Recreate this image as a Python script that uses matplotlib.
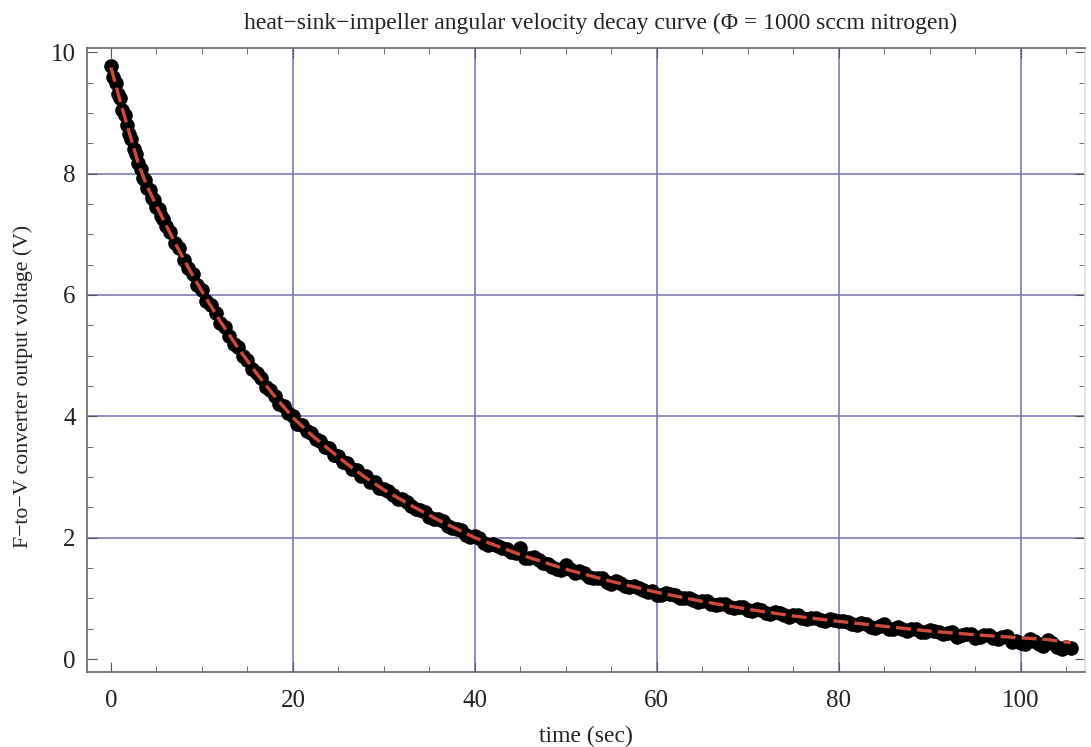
import numpy as np
import matplotlib
matplotlib.use("Agg")
import matplotlib.pyplot as plt
from matplotlib.ticker import MultipleLocator

t_early = [0, 0.25, 0.5, 0.75, 1, 1.25, 1.5, 1.75, 2, 2.25, 2.5, 2.75, 3, 3.25,
           3.5, 3.75, 4, 4.25, 4.5, 4.75, 5, 5.25, 5.5, 5.75, 6]
v_early = [9.77, 9.60, 9.50, 9.31, 9.24, 9.05, 8.97, 8.80, 8.65, 8.57, 8.41, 8.33,
           8.17, 8.08, 7.93, 7.90, 7.76, 7.73, 7.60, 7.57, 7.45, 7.41, 7.30, 7.26, 7.14]

t_mid = [6.5, 7, 7.5, 8, 8.5, 9, 9.5, 10, 10.5, 11, 11.5, 12, 12.5, 13, 13.5, 14,
         14.5, 15, 15.5, 16, 16.5, 17, 17.5, 18, 18.5, 19, 19.5, 20, 20.5, 21, 21.5,
         22, 22.5, 23, 23.5, 24, 24.5, 25, 25.5, 26, 26.5, 27, 27.5, 28, 28.5, 29,
         29.5, 30]
v_mid = [7.04, 6.86, 6.77, 6.58, 6.44, 6.35, 6.17, 6.08, 5.90, 5.83, 5.70, 5.54,
         5.47, 5.33, 5.20, 5.15, 5.00, 4.93, 4.78, 4.72, 4.63, 4.48, 4.44, 4.34,
         4.21, 4.17, 4.05, 4.00, 3.88, 3.86, 3.75, 3.72, 3.62, 3.59, 3.49, 3.47,
         3.37, 3.35, 3.24, 3.23, 3.13, 3.12, 3.02, 3.01, 2.92, 2.91, 2.82, 2.80]

t_late = [31, 32, 33, 34, 35, 36, 37, 38, 39, 40, 41, 42, 43, 44, 45, 46, 47, 48,
          49, 50, 51, 52, 53, 54, 55, 56, 57, 58, 59, 60, 61, 62, 63, 64, 65, 66,
          67, 68, 69, 70, 71, 72, 73, 74, 75, 76, 77, 78, 79, 80, 81, 82, 83, 84,
          85, 86, 87, 88, 89, 90, 91, 92, 93, 94, 95, 96, 97, 98, 99, 100, 101,
          102, 103, 104, 105, 105.5]
v_late = [2.70, 2.64, 2.52, 2.46, 2.34, 2.30, 2.20, 2.15, 2.05, 2.02, 1.92, 1.90,
          1.83, 1.77, 1.83, 1.66, 1.64, 1.56, 1.48, 1.55, 1.42, 1.41, 1.33, 1.33,
          1.24, 1.25, 1.19, 1.17, 1.10, 1.06, 1.09, 1.05, 1.00, 0.97, 0.96, 0.91,
          0.90, 0.86, 0.86, 0.81, 0.82, 0.76, 0.77, 0.72, 0.73, 0.68, 0.68, 0.64,
          0.66, 0.62, 0.61, 0.56, 0.58, 0.51, 0.57, 0.50, 0.49, 0.50, 0.44, 0.48,
          0.44, 0.43, 0.36, 0.41, 0.35, 0.39, 0.34, 0.37, 0.28, 0.27, 0.33, 0.25,
          0.31, 0.20, 0.19, 0.18]

t_half = [30.5, 31.5, 32.5, 33.5, 34.5, 35.5, 36.5, 37.5, 38.5, 39.5, 40.5, 41.5,
          42.5, 43.5, 44.5, 45.5, 46.5, 47.5, 48.5, 49.5, 50.5, 51.5, 52.5, 53.5,
          54.5, 55.5, 56.5, 57.5, 58.5, 59.5, 60.5, 61.5, 62.5, 63.5, 64.5, 65.5,
          66.5, 67.5, 68.5, 69.5, 70.5, 71.5, 72.5, 73.5, 74.5, 75.5, 76.5, 77.5,
          78.5, 79.5, 80.5, 81.5, 82.5, 83.5, 84.5, 85.5, 86.5, 87.5, 88.5, 89.5,
          90.5, 91.5, 92.5, 93.5, 94.5, 95.5, 96.5, 97.5, 98.5, 99.5, 100.5, 101.5,
          102.5, 103.5, 104.5]
v_half = [2.77, 2.64, 2.59, 2.47, 2.42, 2.31, 2.27, 2.16, 2.12, 2.01, 1.99, 1.88,
          1.87, 1.81, 1.74, 1.67, 1.68, 1.58, 1.52, 1.46, 1.48, 1.45, 1.36, 1.34,
          1.27, 1.28, 1.20, 1.20, 1.13, 1.12, 1.05, 1.07, 1.01, 1.01, 0.94, 0.95,
          0.89, 0.90, 0.84, 0.85, 0.79, 0.80, 0.75, 0.76, 0.70, 0.72, 0.66, 0.67,
          0.62, 0.64, 0.63, 0.57, 0.60, 0.53, 0.55, 0.50, 0.53, 0.47, 0.49, 0.45,
          0.47, 0.41, 0.45, 0.39, 0.42, 0.37, 0.40, 0.33, 0.38, 0.30, 0.24, 0.30,
          0.22, 0.26, 0.17]

# fitted model curve
fit_t = [0, 1, 2, 3, 3.5, 4, 5, 6, 7, 8, 9, 10, 12, 14, 16, 18, 20, 22, 24, 26,
         28, 30, 33, 36, 40, 45, 50, 55, 60, 65, 70, 75, 80, 85, 90, 95, 100, 103,
         105.5]
fit_v = [9.75, 9.20, 8.68, 8.17, 7.97, 7.78, 7.47, 7.17, 6.87, 6.59, 6.32, 6.06,
         5.57, 5.12, 4.71, 4.33, 3.98, 3.70, 3.45, 3.21, 2.99, 2.79, 2.53, 2.29,
         2.00, 1.72, 1.48, 1.28, 1.10, 0.95, 0.82, 0.71, 0.62, 0.54, 0.46, 0.40,
         0.35, 0.32, 0.27]

x_grid = [20, 40, 60, 80, 100]
y_grid = [2, 4, 6, 8]

t_all = t_early + t_mid + t_late + t_half
v_all = v_early + v_mid + v_late + v_half

plt.rcParams['font.family'] = ['Liberation Serif', 'DejaVu Serif']
fig = plt.figure(figsize=(10.91, 7.47), dpi=100)
ax = fig.add_axes([0.0797, 0.1004, 0.915, 0.8353])

for g in x_grid:
    ax.axvline(g, color='#7a7ab8', lw=1.2, zorder=0)
for g in y_grid:
    ax.axhline(g, color='#7a7ab8', lw=1.2, zorder=0)

ax.plot(t_all, v_all, 'o', color='black', markersize=9.5, zorder=3)
ax.plot(fit_t, fit_v, color='#cf4a3c', lw=2.4, dashes=(4.5, 1.8), zorder=4)

ax.set_xlim(-2.64, 107.1)
ax.set_ylim(-0.214, 10.07)
ax.xaxis.set_major_locator(MultipleLocator(20))
ax.xaxis.set_minor_locator(MultipleLocator(5))
ax.yaxis.set_major_locator(MultipleLocator(2))
ax.yaxis.set_minor_locator(MultipleLocator(0.5))
ax.tick_params(axis='both', which='both', direction='in', top=True, right=True,
               colors='#555555', labelcolor='#222222', labelsize=18)
ax.tick_params(which='major', length=7)
ax.tick_params(which='minor', length=4)
ax.tick_params(axis='x', which='major', pad=13)
ax.tick_params(axis='y', which='major', pad=8)
for s in ax.spines.values():
    s.set_color('#666666')
    s.set_linewidth(1.2)
ax.spines['right'].set_color('#dddddd')

ax.set_xlabel("time (sec)", fontsize=17, color='#222222', labelpad=10)
ax.set_ylabel("F\u2212to\u2212V converter output voltage (V)", fontsize=15.7,
              color='#222222')
ax.yaxis.set_label_coords(-0.054, 0.458)
ax.set_title("heat\u2212sink\u2212impeller angular velocity decay curve "
             "(\u03a6 = 1000 sccm nitrogen)", fontsize=17, color='#222222',
             pad=14, x=0.515)

plt.savefig("out.png")
